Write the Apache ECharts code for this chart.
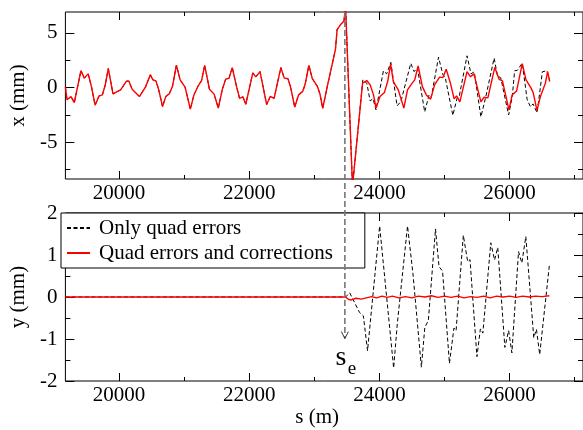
<!DOCTYPE html>
<html><head><meta charset="utf-8">
<script src="https://cdn.jsdelivr.net/npm/echarts@6/dist/echarts.min.js"></script>
<style>html,body{margin:0;padding:0;background:#fff}#c{width:583px;height:430px}</style>
</head><body><div id="c"></div>
<script>
// ---- data (s in m, offsets in mm) ----
const sMajorTicks = [20000, 22000, 24000, 26000];
const sMinorTicks = [21000, 23000, 25000, 27000];
const xMajorTicks = [-5, 0, 5];
const xMinorTicks = [-7.5, -2.5, 2.5];
const yMajorTicks = [-2, -1, 0, 1, 2];
const yMinorTicks = [-1.5, -0.5, 0.5, 1.5];
const sE = 23470;

// common part of horizontal orbit (both cases identical before s_e)
const topPreS = [19178,19203,19264,19315,19417,19467,19528,19578,19634,19695,19746,19787,19837,19909,19974,20026,20117,20152,20203,20315,20407,20483,20522,20568,20609,20670,20720,20772,20822,20883,20940,21016,21097,21153,21218,21269,21317,21390,21462,21526,21588,21640,21690,21741,21802,21853,21904,21949,22056,22102,22167,22269,22326,22383,22487,22539,22597,22639,22700,22757,22822,22859,22917,22970,23046,23087,23130,23206,23274,23325,23351,23404,23457,23480,23587];
const topPreX = [0.04,-1.12,-0.82,-1.37,1.55,0.86,1.25,0.09,-1.61,-0.76,-0.67,0.16,1.74,-0.58,-0.37,-0.21,0.59,0.59,-0.15,-0.82,0.04,1.16,0.70,0.61,-0.15,-1.74,-0.82,-0.58,0.09,2.05,0.70,0.04,-1.97,-0.65,0.16,0.64,2.03,-0.15,-0.60,-1.88,-0.16,0.77,0.84,1.82,0.20,-0.99,-0.85,-1.52,1.34,0.98,1.46,-1.55,-0.80,-0.99,1.82,0.86,0.81,-0.03,-1.79,-0.69,-0.35,0.27,2.03,0.81,0.14,-0.58,-1.90,0.27,2.10,3.46,5.29,5.75,6.08,7.5,-9.0];
// horizontal, with corrections (after s_e)
const topCorrS = [23742,23807,23858,23910,23949,24010,24077,24127,24173,24214,24290,24376,24432,24503,24543,24595,24660,24721,24787,24848,24924,24976,25026,25091,25148,25186,25236,25346,25399,25452,25559,25609,25666,25772,25838,25890,25990,26039,26107,26194,26252,26328,26362,26420,26473,26549,26584,26615];
const topCorrX = [0.40,0.64,0.25,-0.67,-1.88,-0.82,-0.46,0.55,2.14,0.55,-0.21,-1.88,-0.21,0.40,0.70,1.98,0.09,-0.67,-1.06,0.25,0.95,0.91,1.68,0.40,-1.03,-0.76,-1.31,1.46,0.98,1.25,-1.31,-0.88,-0.94,1.85,0.75,0.61,-2.04,-0.67,-0.32,2.18,0.70,-0.03,-0.46,-2.08,-0.82,0.40,1.46,0.55];
// horizontal, only quad errors (after s_e)
const topQuadS = [23746,23807,23858,23902,23948,24062,24112,24176,24272,24330,24482,24534,24584,24696,24763,24797,24908,24976,25011,25128,25193,25228,25346,25407,25457,25559,25635,25762,25814,25864,25985,26041,26077,26118,26194,26270,26321,26359,26422,26503,26572,26615];
const topQuadX = [0.70,0.40,-1.22,-1.01,-2.04,1.53,1.25,2.30,-1.67,-1.28,2.21,1.46,1.80,-2.22,-0.67,-0.90,2.78,1.16,0.93,-2.54,-0.97,-0.76,2.90,1.25,1.44,-2.68,-0.82,2.69,1.07,0.89,-2.50,-0.82,1.53,1.57,2.23,-1.12,-1.76,-1.49,-2.31,1.44,1.54,0.66];
// vertical, only quad errors
const botQuadS = [19178,23480,23544,23696,23754,23818,24004,24219,24275,24432,24516,24645,24698,24752,24862,24916,24970,25076,25145,25178,25289,25356,25392,25498,25551,25589,25711,25769,25818,25927,25985,26035,26137,26188,26249,26371,26412,26462,26610];
const botQuadY = [0,0,0.10,-0.37,-0.45,-1.28,1.69,-1.69,-0.64,1.69,0.55,-1.67,-0.72,-0.56,1.62,0.72,0.62,-1.58,-0.74,-0.80,1.47,0.84,0.89,-1.42,-0.76,-0.86,1.29,0.88,1.18,-1.20,-0.80,-1.33,1.08,0.81,1.44,-0.97,-0.77,-1.37,0.75];
// vertical, with corrections
const botCorrS = [19178,23480,23530,23570,23640,23720,23800,23880,23960,24040,24120,24200,24300,24400,24500,24600,24700,24800,24900,25000,25100,25200,25300,25400,25500,25600,25700,25800,25900,26000,26100,26200,26300,26400,26500,26610];
const botCorrY = [0,0,-0.06,-0.07,-0.03,-0.05,-0.02,0.01,-0.02,0.02,-0.01,0.02,-0.02,0.01,-0.02,0.02,0.00,0.03,-0.01,0.02,-0.01,0.02,-0.02,0.01,-0.01,0.02,-0.02,0.02,0.00,0.02,-0.01,0.02,0.00,0.02,0.01,0.03];

const nameQuad = 'Only quad errors';
const nameCorr = 'Quad errors and corrections';

// ---- layout / style ----
const S_MIN = 19178, S_MAX = 27127;
const TOP_MIN = -8.35, TOP_MAX = 6.9;
const BOT_MIN = -2, BOT_MAX = 2;
const FONT = 'Liberation Serif';
const FS = 21;

function zip(a, b) { return a.map((v, i) => [v, b[i]]); }
const plain = v => String(v);

function xAxesFor(grid, withLabels, name) {
  const base = {type: 'value', gridIndex: grid, min: S_MIN, max: S_MAX, splitLine: {show: false},
    axisLine: {show: false, onZero: false}};
  const tick = (vals, len) => ({show: true, inside: true, length: len, customValues: vals, lineStyle: {color: '#000', width: 1}});
  return [
    Object.assign({}, base, {position: 'bottom', axisTick: tick(sMajorTicks, 8),
      axisLabel: withLabels ? {show: true, customValues: sMajorTicks, formatter: plain, fontFamily: FONT, fontSize: FS, color: '#000', margin: 4} : {show: false},
      name: name || '', nameLocation: 'middle', nameGap: 26,
      nameTextStyle: {fontFamily: FONT, fontSize: FS, color: '#000', padding: [0, 14, 0, 0]}}),
    Object.assign({}, base, {position: 'bottom', axisTick: tick(sMinorTicks, 4), axisLabel: {show: false}}),
    Object.assign({}, base, {position: 'top', axisTick: tick(sMajorTicks, 8), axisLabel: {show: false}}),
    Object.assign({}, base, {position: 'top', axisTick: tick(sMinorTicks, 4), axisLabel: {show: false}})
  ];
}
function yAxesFor(grid, mn, mx, major, minor, name) {
  const base = {type: 'value', gridIndex: grid, min: mn, max: mx, splitLine: {show: false},
    axisLine: {show: false, onZero: false}};
  const tick = (vals, len) => ({show: true, inside: true, length: len, customValues: vals, lineStyle: {color: '#000', width: 1}});
  return [
    Object.assign({}, base, {position: 'left', axisTick: tick(major, 9),
      axisLabel: {show: true, customValues: major, formatter: plain, fontFamily: FONT, fontSize: FS, color: '#000', margin: 8},
      name: name, nameLocation: 'middle', nameGap: 25, nameRotate: 90,
      nameTextStyle: {fontFamily: FONT, fontSize: FS, color: '#000'}}),
    Object.assign({}, base, {position: 'left', axisTick: tick(minor, 5), axisLabel: {show: false}}),
    Object.assign({}, base, {position: 'right', axisTick: tick(major, 9), axisLabel: {show: false}}),
    Object.assign({}, base, {position: 'right', axisTick: tick(minor, 5), axisLabel: {show: false}})
  ];
}

const quadLine = {color: '#000', width: 1, type: [4, 2.5]};
const corrLine = {color: '#ff0000', width: 1.4};

const chart = echarts.init(document.getElementById('c'), null, {renderer: 'canvas'});
const option = {
  animation: false,
  backgroundColor: '#fff',
  grid: [
    {left: 61, top: 12, width: 522, height: 167, show: true, borderColor: '#000', borderWidth: 1, backgroundColor: 'transparent'},
    {left: 61, top: 213, width: 522, height: 168, show: true, borderColor: '#000', borderWidth: 1, backgroundColor: 'transparent'}
  ],
  xAxis: xAxesFor(0, true).concat(xAxesFor(1, true, 's (m)')),
  yAxis: yAxesFor(0, TOP_MIN, TOP_MAX, xMajorTicks, xMinorTicks, 'x (mm)')
    .concat(yAxesFor(1, BOT_MIN, BOT_MAX, yMajorTicks, yMinorTicks, 'y (mm)')),
  legend: {
    data: [nameQuad, nameCorr],
    orient: 'vertical', left: 61, top: 213,
    backgroundColor: '#fff', borderColor: '#000', borderWidth: 1, borderRadius: 0,
    padding: [4, 32, 4, 5], itemGap: 3, itemWidth: 23, itemHeight: 14,
    itemStyle: {opacity: 0},
    textStyle: {fontFamily: FONT, fontSize: FS, color: '#000', lineHeight: 22, padding: [0, 0, 0, 4]},
    selectedMode: false
  },
  series: [
    {name: nameQuad, type: 'line', xAxisIndex: 0, yAxisIndex: 0, symbol: 'none', lineStyle: quadLine, itemStyle: {color: '#000'},
      data: zip(topPreS, topPreX).concat(zip(topQuadS, topQuadX)), z: 2},
    {name: nameCorr, type: 'line', xAxisIndex: 0, yAxisIndex: 0, symbol: 'none', lineStyle: corrLine, itemStyle: {color: '#ff0000'},
      data: zip(topPreS, topPreX).concat(zip(topCorrS, topCorrX)), z: 3},
    {name: nameQuad, type: 'line', xAxisIndex: 4, yAxisIndex: 4, symbol: 'none', lineStyle: quadLine, itemStyle: {color: '#000'},
      data: zip(botQuadS, botQuadY), z: 2},
    {name: nameCorr, type: 'line', xAxisIndex: 4, yAxisIndex: 4, symbol: 'none', lineStyle: corrLine, itemStyle: {color: '#ff0000'},
      data: zip(botCorrS, botCorrY), z: 3}
  ]
};
chart.setOption(option);

// s_e marker: dashed vertical line through both panels, ending with an open arrow
const pTop = chart.convertToPixel({xAxisIndex: 0, yAxisIndex: 0}, [sE, TOP_MAX]);
const pEnd = chart.convertToPixel({xAxisIndex: 4, yAxisIndex: 4}, [sE, -0.99]);
const xe = pTop[0];
chart.setOption({
  graphic: [
    {type: 'polyline', z: 10, shape: {points: [[xe, pTop[1]], [xe, pEnd[1]]]},
      style: {stroke: '#777', lineWidth: 1.6, lineDash: [6, 3], fill: null}},
    {type: 'polyline', z: 10, shape: {points: [[xe - 3.5, pEnd[1] - 7], [xe, pEnd[1]], [xe + 3.5, pEnd[1] - 7]]},
      style: {stroke: '#333', lineWidth: 1, fill: null}},
    {type: 'text', z: 10, x: xe - 4, y: pEnd[1] + 19,
      style: {text: 's', font: '28px "Liberation Serif"', fill: '#000', align: 'center', verticalAlign: 'middle'}},
    {type: 'text', z: 10, x: xe + 7, y: pEnd[1] + 30,
      style: {text: 'e', font: '19px "Liberation Serif"', fill: '#000', align: 'center', verticalAlign: 'middle'}}
  ]
});
</script>
</body></html>
